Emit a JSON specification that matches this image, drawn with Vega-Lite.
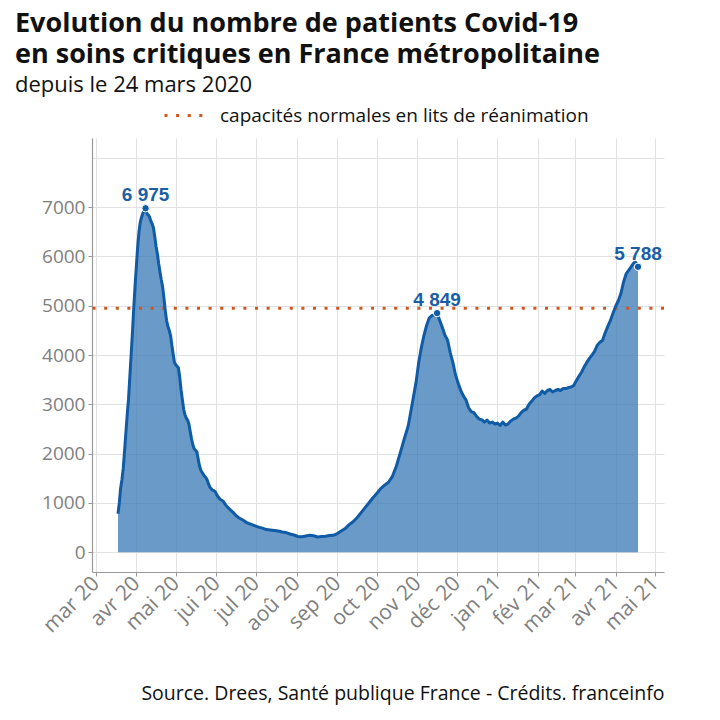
{
  "$schema": "https://vega.github.io/schema/vega-lite/v6.json",
  "width": 572,
  "height": 434,
  "autosize": {"type": "none"},
  "padding": {"left": 92, "top": 138, "right": 56, "bottom": 148},
  "background": "white",
  "title": {
    "text": ["Evolution du nombre de patients Covid-19", "en soins critiques en France métropolitaine"],
    "subtitle": "depuis le 24 mars 2020",
    "anchor": "start",
    "frame": "group",
    "dx": -77,
    "offset": -3,
    "font": "Open Sans",
    "fontSize": 27,
    "fontWeight": "bold",
    "color": "#111111",
    "lineHeight": 31,
    "subtitleFont": "Open Sans",
    "subtitleFontSize": 22,
    "subtitleColor": "#111111",
    "subtitlePadding": 6
  },
  "datasets": {
    "series": [
      {"d": "2020-03-18", "v": 780}, {"d": "2020-03-19", "v": 1000}, {"d": "2020-03-20", "v": 1300},
      {"d": "2020-03-21", "v": 1470}, {"d": "2020-03-22", "v": 1700}, {"d": "2020-03-23", "v": 2050},
      {"d": "2020-03-24", "v": 2420}, {"d": "2020-03-25", "v": 2780}, {"d": "2020-03-26", "v": 3100},
      {"d": "2020-03-27", "v": 3550}, {"d": "2020-03-28", "v": 4000}, {"d": "2020-03-29", "v": 4450},
      {"d": "2020-03-30", "v": 4950}, {"d": "2020-03-31", "v": 5400}, {"d": "2020-04-01", "v": 5800},
      {"d": "2020-04-02", "v": 6200}, {"d": "2020-04-03", "v": 6500}, {"d": "2020-04-04", "v": 6700},
      {"d": "2020-04-05", "v": 6800}, {"d": "2020-04-06", "v": 6880}, {"d": "2020-04-07", "v": 6930},
      {"d": "2020-04-08", "v": 6975}, {"d": "2020-04-09", "v": 6870}, {"d": "2020-04-10", "v": 6840},
      {"d": "2020-04-11", "v": 6800}, {"d": "2020-04-12", "v": 6720}, {"d": "2020-04-13", "v": 6660},
      {"d": "2020-04-14", "v": 6580}, {"d": "2020-04-15", "v": 6400}, {"d": "2020-04-16", "v": 6200},
      {"d": "2020-04-17", "v": 6050}, {"d": "2020-04-18", "v": 5850}, {"d": "2020-04-19", "v": 5680},
      {"d": "2020-04-20", "v": 5520}, {"d": "2020-04-21", "v": 5380}, {"d": "2020-04-22", "v": 5150},
      {"d": "2020-04-23", "v": 4900}, {"d": "2020-04-24", "v": 4700}, {"d": "2020-04-25", "v": 4580},
      {"d": "2020-04-26", "v": 4500}, {"d": "2020-04-27", "v": 4400}, {"d": "2020-04-28", "v": 4200},
      {"d": "2020-04-29", "v": 4020}, {"d": "2020-04-30", "v": 3850}, {"d": "2020-05-01", "v": 3800},
      {"d": "2020-05-02", "v": 3770}, {"d": "2020-05-03", "v": 3740}, {"d": "2020-05-04", "v": 3550},
      {"d": "2020-05-05", "v": 3300}, {"d": "2020-05-06", "v": 3100}, {"d": "2020-05-07", "v": 2900},
      {"d": "2020-05-08", "v": 2790}, {"d": "2020-05-09", "v": 2720}, {"d": "2020-05-10", "v": 2680},
      {"d": "2020-05-11", "v": 2600}, {"d": "2020-05-12", "v": 2450}, {"d": "2020-05-13", "v": 2300},
      {"d": "2020-05-14", "v": 2180}, {"d": "2020-05-15", "v": 2100}, {"d": "2020-05-16", "v": 2070},
      {"d": "2020-05-17", "v": 2040}, {"d": "2020-05-18", "v": 1900}, {"d": "2020-05-19", "v": 1760},
      {"d": "2020-05-20", "v": 1670}, {"d": "2020-05-21", "v": 1620}, {"d": "2020-05-22", "v": 1580},
      {"d": "2020-05-23", "v": 1540}, {"d": "2020-05-24", "v": 1510}, {"d": "2020-05-25", "v": 1460},
      {"d": "2020-05-26", "v": 1380}, {"d": "2020-05-27", "v": 1320}, {"d": "2020-05-28", "v": 1290},
      {"d": "2020-05-29", "v": 1260}, {"d": "2020-05-30", "v": 1250}, {"d": "2020-05-31", "v": 1230},
      {"d": "2020-06-02", "v": 1130}, {"d": "2020-06-04", "v": 1070}, {"d": "2020-06-06", "v": 1040},
      {"d": "2020-06-08", "v": 960}, {"d": "2020-06-10", "v": 900}, {"d": "2020-06-12", "v": 850},
      {"d": "2020-06-14", "v": 800}, {"d": "2020-06-16", "v": 740}, {"d": "2020-06-18", "v": 700},
      {"d": "2020-06-20", "v": 670}, {"d": "2020-06-22", "v": 640}, {"d": "2020-06-24", "v": 600},
      {"d": "2020-06-26", "v": 580}, {"d": "2020-06-28", "v": 560}, {"d": "2020-06-30", "v": 540},
      {"d": "2020-07-03", "v": 510}, {"d": "2020-07-06", "v": 490}, {"d": "2020-07-09", "v": 460},
      {"d": "2020-07-12", "v": 450}, {"d": "2020-07-15", "v": 440}, {"d": "2020-07-18", "v": 430},
      {"d": "2020-07-21", "v": 410}, {"d": "2020-07-24", "v": 400}, {"d": "2020-07-27", "v": 370},
      {"d": "2020-07-30", "v": 350}, {"d": "2020-08-02", "v": 320}, {"d": "2020-08-05", "v": 315},
      {"d": "2020-08-08", "v": 330}, {"d": "2020-08-11", "v": 345}, {"d": "2020-08-14", "v": 335},
      {"d": "2020-08-17", "v": 310}, {"d": "2020-08-20", "v": 320}, {"d": "2020-08-23", "v": 325},
      {"d": "2020-08-26", "v": 340}, {"d": "2020-08-29", "v": 345}, {"d": "2020-09-01", "v": 380},
      {"d": "2020-09-04", "v": 430}, {"d": "2020-09-07", "v": 480}, {"d": "2020-09-10", "v": 560},
      {"d": "2020-09-13", "v": 620}, {"d": "2020-09-16", "v": 700}, {"d": "2020-09-19", "v": 800},
      {"d": "2020-09-22", "v": 900}, {"d": "2020-09-25", "v": 1000}, {"d": "2020-09-28", "v": 1100},
      {"d": "2020-10-01", "v": 1190}, {"d": "2020-10-04", "v": 1290}, {"d": "2020-10-07", "v": 1360},
      {"d": "2020-10-10", "v": 1420}, {"d": "2020-10-13", "v": 1540}, {"d": "2020-10-16", "v": 1750},
      {"d": "2020-10-19", "v": 2020}, {"d": "2020-10-22", "v": 2300}, {"d": "2020-10-25", "v": 2560},
      {"d": "2020-10-28", "v": 3000}, {"d": "2020-10-31", "v": 3450}, {"d": "2020-11-02", "v": 3850},
      {"d": "2020-11-04", "v": 4150}, {"d": "2020-11-06", "v": 4400}, {"d": "2020-11-08", "v": 4600},
      {"d": "2020-11-10", "v": 4750}, {"d": "2020-11-12", "v": 4800}, {"d": "2020-11-14", "v": 4810},
      {"d": "2020-11-16", "v": 4849}, {"d": "2020-11-18", "v": 4700}, {"d": "2020-11-20", "v": 4560},
      {"d": "2020-11-22", "v": 4400}, {"d": "2020-11-24", "v": 4300}, {"d": "2020-11-26", "v": 4050},
      {"d": "2020-11-28", "v": 3850}, {"d": "2020-11-30", "v": 3600}, {"d": "2020-12-02", "v": 3430},
      {"d": "2020-12-04", "v": 3280}, {"d": "2020-12-06", "v": 3170}, {"d": "2020-12-08", "v": 3090},
      {"d": "2020-12-10", "v": 2930}, {"d": "2020-12-12", "v": 2850}, {"d": "2020-12-14", "v": 2830},
      {"d": "2020-12-16", "v": 2760}, {"d": "2020-12-18", "v": 2700}, {"d": "2020-12-20", "v": 2690},
      {"d": "2020-12-22", "v": 2640}, {"d": "2020-12-24", "v": 2680}, {"d": "2020-12-26", "v": 2620},
      {"d": "2020-12-28", "v": 2640}, {"d": "2020-12-30", "v": 2600}, {"d": "2021-01-01", "v": 2620},
      {"d": "2021-01-03", "v": 2570}, {"d": "2021-01-05", "v": 2640}, {"d": "2021-01-07", "v": 2580},
      {"d": "2021-01-09", "v": 2600}, {"d": "2021-01-11", "v": 2660}, {"d": "2021-01-13", "v": 2700},
      {"d": "2021-01-15", "v": 2720}, {"d": "2021-01-17", "v": 2760}, {"d": "2021-01-19", "v": 2830},
      {"d": "2021-01-21", "v": 2880}, {"d": "2021-01-23", "v": 2900}, {"d": "2021-01-25", "v": 3000},
      {"d": "2021-01-27", "v": 3060}, {"d": "2021-01-29", "v": 3130}, {"d": "2021-01-31", "v": 3170},
      {"d": "2021-02-02", "v": 3190}, {"d": "2021-02-04", "v": 3270}, {"d": "2021-02-06", "v": 3220},
      {"d": "2021-02-08", "v": 3280}, {"d": "2021-02-10", "v": 3300}, {"d": "2021-02-12", "v": 3250},
      {"d": "2021-02-14", "v": 3280}, {"d": "2021-02-16", "v": 3300}, {"d": "2021-02-18", "v": 3280},
      {"d": "2021-02-20", "v": 3320}, {"d": "2021-02-22", "v": 3320}, {"d": "2021-02-24", "v": 3340},
      {"d": "2021-02-26", "v": 3350}, {"d": "2021-02-28", "v": 3380}, {"d": "2021-03-02", "v": 3480},
      {"d": "2021-03-04", "v": 3570}, {"d": "2021-03-06", "v": 3650}, {"d": "2021-03-08", "v": 3760},
      {"d": "2021-03-10", "v": 3850}, {"d": "2021-03-12", "v": 3930}, {"d": "2021-03-14", "v": 4000},
      {"d": "2021-03-16", "v": 4080}, {"d": "2021-03-18", "v": 4200}, {"d": "2021-03-20", "v": 4260},
      {"d": "2021-03-22", "v": 4300}, {"d": "2021-03-24", "v": 4450}, {"d": "2021-03-26", "v": 4580},
      {"d": "2021-03-28", "v": 4700}, {"d": "2021-03-30", "v": 4850}, {"d": "2021-04-01", "v": 4990},
      {"d": "2021-04-03", "v": 5100}, {"d": "2021-04-05", "v": 5250}, {"d": "2021-04-07", "v": 5480},
      {"d": "2021-04-09", "v": 5650}, {"d": "2021-04-11", "v": 5720}, {"d": "2021-04-13", "v": 5800},
      {"d": "2021-04-15", "v": 5870}, {"d": "2021-04-16", "v": 5880}, {"d": "2021-04-17", "v": 5850},
      {"d": "2021-04-18", "v": 5788}
    ],
    "peaks": [
      {"d": "2020-04-08", "v": 6975, "label": "6 975"},
      {"d": "2020-11-16", "v": 4849, "label": "4 849"},
      {"d": "2021-04-18", "v": 5788, "label": "5 788"}
    ],
    "capacity": [
      {"v": 4950, "serie": "capacités normales en lits de réanimation"}
    ]
  },
  "layer": [
    {
      "data": {"name": "series"},
      "mark": {"type": "area", "color": "#3878b5", "opacity": 0.75},
      "encoding": {
        "x": {
          "field": "d",
          "type": "temporal",
          "scale": {
            "type": "utc",
            "domain": [
              {"year": 2020, "month": 2, "date": 27, "hours": 5, "utc": true},
              {"year": 2021, "month": 5, "date": 7, "hours": 19, "utc": true}
            ]
          },
          "axis": {
            "values": [
              {"year": 2020, "month": 3, "date": 1, "utc": true},
              {"year": 2020, "month": 3, "date": 16, "hours": 12, "utc": true},
              {"year": 2020, "month": 4, "date": 1, "utc": true},
              {"year": 2020, "month": 4, "date": 16, "utc": true},
              {"year": 2020, "month": 5, "date": 1, "utc": true},
              {"year": 2020, "month": 5, "date": 16, "hours": 12, "utc": true},
              {"year": 2020, "month": 6, "date": 1, "utc": true},
              {"year": 2020, "month": 6, "date": 16, "utc": true},
              {"year": 2020, "month": 7, "date": 1, "utc": true},
              {"year": 2020, "month": 7, "date": 16, "hours": 12, "utc": true},
              {"year": 2020, "month": 8, "date": 1, "utc": true},
              {"year": 2020, "month": 8, "date": 16, "hours": 12, "utc": true},
              {"year": 2020, "month": 9, "date": 1, "utc": true},
              {"year": 2020, "month": 9, "date": 16, "utc": true},
              {"year": 2020, "month": 10, "date": 1, "utc": true},
              {"year": 2020, "month": 10, "date": 16, "hours": 12, "utc": true},
              {"year": 2020, "month": 11, "date": 1, "utc": true},
              {"year": 2020, "month": 11, "date": 16, "utc": true},
              {"year": 2020, "month": 12, "date": 1, "utc": true},
              {"year": 2020, "month": 12, "date": 16, "hours": 12, "utc": true},
              {"year": 2021, "month": 1, "date": 1, "utc": true},
              {"year": 2021, "month": 1, "date": 16, "hours": 12, "utc": true},
              {"year": 2021, "month": 2, "date": 1, "utc": true},
              {"year": 2021, "month": 2, "date": 15, "utc": true},
              {"year": 2021, "month": 3, "date": 1, "utc": true},
              {"year": 2021, "month": 3, "date": 16, "hours": 12, "utc": true},
              {"year": 2021, "month": 4, "date": 1, "utc": true},
              {"year": 2021, "month": 4, "date": 16, "utc": true},
              {"year": 2021, "month": 5, "date": 1, "utc": true}
            ],
            "labelExpr": "utcdate(datum.value) == 1 ? ['jan','fév','mar','avr','mai','jui','jul','aoû','sep','oct','nov','déc'][utcmonth(datum.value)] + ' ' + utcFormat(datum.value, '%y') : ''",
            "labelAngle": -45,
            "labelAlign": "right",
            "labelBaseline": "middle",
            "labelPadding": 4,
            "labelFont": "Open Sans",
            "labelFontSize": 21,
            "labelColor": "#808080",
            "labelOverlap": false,
            "tickSize": 4,
            "tickColor": "#999999",
            "tickOpacity": {"condition": {"test": "utcdate(datum.value) == 1", "value": 1}, "value": 0},
            "gridColor": {"condition": {"test": "utcdate(datum.value) == 1", "value": "#e2e2e2"}, "value": "#efefef"},
            "domainColor": "#999999",
            "domainWidth": 1.2,
            "title": "Source. Drees, Santé publique France - Crédits. franceinfo",
            "titleAnchor": "end",
            "titleFont": "Open Sans",
            "titleFontSize": 19.5,
            "titleFontWeight": "normal",
            "titleColor": "#111111",
            "titlePadding": 49
          }
        },
        "y": {
          "field": "v",
          "type": "quantitative",
          "scale": {"domain": [-400, 8400], "nice": false, "zero": false},
          "axis": {
            "values": [0, 500, 1000, 1500, 2000, 2500, 3000, 3500, 4000, 4500, 5000, 5500, 6000, 6500, 7000, 7500, 8000],
            "format": "d",
            "labelExpr": "datum.value % 1000 == 0 && datum.value <= 7000 ? datum.label : ''",
            "labelFont": "Open Sans",
            "labelFontSize": 19,
            "labelColor": "#808080",
            "labelPadding": 3,
            "tickSize": 4,
            "tickColor": "#999999",
            "tickOpacity": {"condition": {"test": "datum.value % 1000 == 0 && datum.value <= 7000", "value": 1}, "value": 0},
            "gridColor": {"condition": {"test": "datum.value % 1000 == 0", "value": "#e2e2e2"}, "value": "#efefef"},
            "domainColor": "#999999",
            "domainWidth": 1.2,
            "title": null
          }
        }
      }
    },
    {
      "data": {"name": "capacity"},
      "mark": {"type": "rule", "strokeWidth": 3, "strokeDash": [3, 8.6]},
      "encoding": {
        "y": {"field": "v", "type": "quantitative"},
        "color": {
          "field": "serie",
          "type": "nominal",
          "scale": {"range": ["#d4541c"]},
          "legend": {
            "orient": "none",
            "legendX": 71,
            "legendY": -44,
            "title": null,
            "symbolType": "stroke",
            "symbolDash": [3, 8.6],
            "symbolStrokeWidth": 3,
            "symbolSize": 1600,
            "labelFont": "Open Sans",
            "labelFontSize": 19,
            "labelColor": "#111111",
            "labelOffset": 14,
            "labelLimit": 0
          }
        }
      }
    },
    {
      "data": {"name": "series"},
      "mark": {"type": "line", "color": "#0f5ba6", "strokeWidth": 3, "strokeJoin": "round"},
      "encoding": {
        "x": {"field": "d", "type": "temporal"},
        "y": {"field": "v", "type": "quantitative"}
      }
    },
    {
      "data": {"name": "peaks"},
      "mark": {"type": "point", "filled": true, "size": 55, "color": "#0f5ba6", "stroke": "white", "strokeWidth": 1, "opacity": 1},
      "encoding": {
        "x": {"field": "d", "type": "temporal"},
        "y": {"field": "v", "type": "quantitative"}
      }
    },
    {
      "data": {"name": "peaks"},
      "mark": {"type": "text", "font": "Liberation Sans", "fontSize": 19, "fontWeight": "bold", "color": "#1a5ea6", "baseline": "alphabetic", "dy": -7},
      "encoding": {
        "x": {"field": "d", "type": "temporal"},
        "y": {"field": "v", "type": "quantitative"},
        "text": {"field": "label"}
      }
    }
  ],
  "config": {
    "view": {"stroke": null},
    "axis": {"gridWidth": 1}
  }
}
